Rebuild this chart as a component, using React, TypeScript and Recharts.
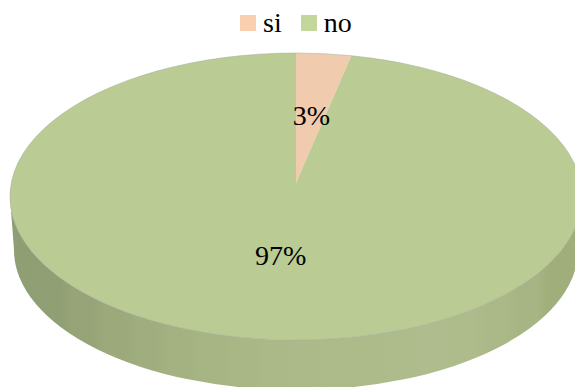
import React from 'react';
import { PieChart, Pie, Cell, Legend } from 'recharts';

const categories = ['si', 'no'];
const values = [3.1, 96.9];
const swatchColors = ['#f9cfb0', '#c3d69b'];
const faceColors = ['#f0cbae', '#bbcb94'];

const FONT = '"Liberation Serif", serif';
const CX = 296;
const CY = 196.5;
const RX = 286;
const RY = 143.5;
const APEX_Y = 183;
const BOTTOM_CY = 250;
const BOTTOM_RX = 282;
const BOTTOM_RY = 140;

const data = categories.map((name, i) => ({ name, value: values[i] }));

const rad = (a: number) => (a * Math.PI) / 180;
const px = (a: number, cx = CX, rx = RX) => cx + rx * Math.cos(rad(a));
const py = (a: number, cy = CY, ry = RY) => cy - ry * Math.sin(rad(a));

// top face: recharts hands us the angles, we squash them to the tilted ellipse
const TopFace = (props: any) => {
  const { startAngle, endAngle, index } = props;
  const large = Math.abs(startAngle - endAngle) > 180 ? 1 : 0;
  const arc = `${px(startAngle)},${py(startAngle)} A${RX},${RY} 0 ${large} 1 ${px(endAngle)},${py(endAngle)}`;
  return (
    <g>
      <path d={`M${CX},${APEX_Y} L${arc} Z`} fill={faceColors[index]} />
      <path d={`M${arc}`} fill="none" stroke="#a2a899" strokeWidth={0.5} />
    </g>
  );
};

// facet colours along the wall, left to right
const wallBands = ['#8f9e73', '#919f74', '#96a478', '#9ba97b', '#a0ad7e', '#a4b181', '#a7b484', '#a9b686', '#abb888', '#acb988', '#adba89', '#adba89', '#aebb8b', '#afbc8d', '#aebb8b', '#abb887', '#a7b483', '#a0ae7b'];

// side wall: only the part of a slice that faces the viewer
const SideWall = (props: any) => {
  const s = Math.min(props.startAngle, 0);
  const e = Math.max(props.endAngle, -180);
  if (s <= e) return null;
  const d =
    `M${px(s)},${py(s)} A${RX},${RY} 0 0 1 ${px(e)},${py(e)} ` +
    `L${px(e, CX, BOTTOM_RX)},${py(e, BOTTOM_CY, BOTTOM_RY)} ` +
    `A${BOTTOM_RX},${BOTTOM_RY} 0 0 0 ${px(s, CX, BOTTOM_RX)},${py(s, BOTTOM_CY, BOTTOM_RY)} Z`;
  const n = wallBands.length;
  return (
    <g>
      <defs>
        <linearGradient id="wall" gradientUnits="userSpaceOnUse" x1={10} x2={582} y1={0} y2={0}>
          {wallBands.flatMap((c, i) => [
            <stop key={`${i}a`} offset={`${(i / n) * 100}%`} stopColor={c} />,
            <stop key={`${i}b`} offset={`${((i + 0.6) / n) * 100}%`} stopColor={c} />,
          ])}
        </linearGradient>
      </defs>
      <path d={d} fill="url(#wall)" />
    </g>
  );
};

const renderLabel = (props: any) => {
  const { midAngle, percent } = props;
  const x = CX + 0.55 * RX * Math.cos(rad(midAngle));
  const sin = Math.sin(rad(midAngle));
  const y = APEX_Y - 3 - (sin > 0 ? 0.5 * sin * (APEX_Y - (CY - RY)) : 0.485 * sin * (CY + RY - APEX_Y));
  return (
    <text x={x} y={y} textAnchor="middle" dominantBaseline="central" fontFamily={FONT} fontSize={28} fill="#000">
      {`${Math.round(percent * 100)}%`}
    </text>
  );
};

const renderLegend = () => (
  <div style={{ display: 'flex', fontFamily: FONT, fontSize: 28, lineHeight: '32px', color: '#000' }}>
    {categories.map((c, i) => (
      <div key={c} style={{ display: 'flex', alignItems: 'center', marginRight: 19 }}>
        <span style={{ width: 16, height: 16, background: swatchColors[i], marginRight: 7 }} />
        <span>{c}</span>
      </div>
    ))}
  </div>
);

export default function App() {
  return (
    <div style={{ position: 'absolute', left: 0, top: 0, width: 575, height: 387, overflow: 'hidden', background: '#fff' }}>
      <PieChart width={575} height={387} margin={{ top: 0, right: 0, bottom: 0, left: 0 }}>
        <Pie
          data={data}
          dataKey="value"
          nameKey="name"
          cx={CX}
          cy={CY}
          outerRadius={RX}
          startAngle={90}
          endAngle={-270}
          stroke="none"
          legendType="none"
          shape={SideWall}
          isAnimationActive={false}
        />
        <Pie
          data={data}
          dataKey="value"
          nameKey="name"
          cx={CX}
          cy={CY}
          outerRadius={RX}
          startAngle={90}
          endAngle={-270}
          stroke="none"
          shape={TopFace}
          label={renderLabel}
          labelLine={false}
          isAnimationActive={false}
        >
          {data.map((d, i) => (
            <Cell key={d.name} fill={faceColors[i]} />
          ))}
        </Pie>
        <Legend content={renderLegend} wrapperStyle={{ left: 240, top: 7, width: 160, bottom: 'auto' }} />
      </PieChart>
    </div>
  );
}
